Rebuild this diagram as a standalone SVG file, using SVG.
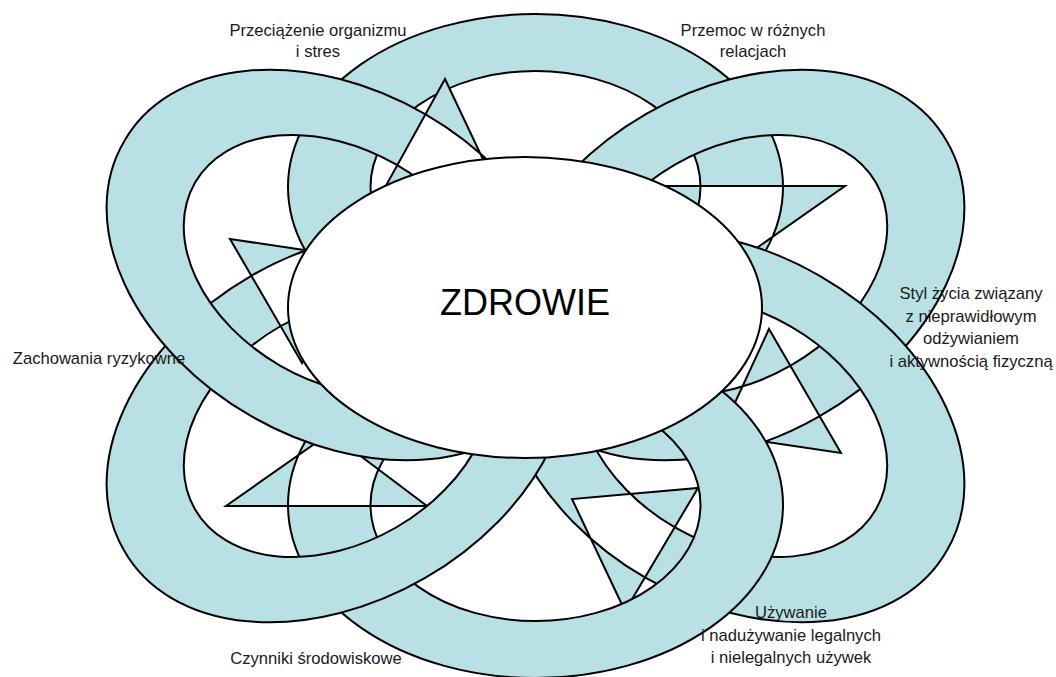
<svg xmlns="http://www.w3.org/2000/svg" width="1056" height="677" viewBox="0 0 1056 677">
<style>
.ring{fill:#B9E0E4;fill-rule:evenodd;stroke:#000;stroke-width:2;stroke-linejoin:miter}
.core{fill:#fff;stroke:#000;stroke-width:2}
.lbl{font-family:"Liberation Sans",Arial,sans-serif;font-size:16.6px;fill:#1a1a1a;text-anchor:middle}
.big{font-family:"Liberation Sans",Arial,sans-serif;font-size:36px;fill:#000;text-anchor:middle}
</style>
<rect width="1056" height="677" fill="#fff"/>
<g id="rings">
<path id="ring-top" class="ring" d="M288 187 A247.5 173 0 1 0 783 187 A247.5 173 0 1 0 288 187 Z M370.5 187 A165 116 0 1 0 700.5 187 A165 116 0 1 0 370.5 187 Z M845 186 L644 186 L741 259 Z"/>
<path id="ring-top-right" class="ring" d="M946.9 141.5 A247 173 -30 1 0 519.1 388.5 A247 173 -30 1 0 946.9 141.5 Z M875.9 182.5 A165 116 -30 1 0 590.1 347.5 A165 116 -30 1 0 875.9 182.5 Z M769 329 L841 453 L720 435 Z"/>
<path id="ring-right" class="ring" d="M946.9 550.5 A247 173 30 1 0 519.1 303.5 A247 173 30 1 0 946.9 550.5 Z M875.9 509.5 A165 116 30 1 0 590.1 344.5 A165 116 30 1 0 875.9 509.5 Z M625 611 L572 499 L698 488 Z"/>
<path id="ring-bottom" class="ring" d="M288 505 A247.5 173 0 1 0 783 505 A247.5 173 0 1 0 288 505 Z M370.5 505 A165 116 0 1 0 700.5 505 A165 116 0 1 0 370.5 505 Z M226 506 L427 506 L330 433 Z"/>
<path id="ring-bottom-left" class="ring" d="M551.9 303.5 A247 173 -30 1 0 124.1 550.5 A247 173 -30 1 0 551.9 303.5 Z M480.9 344.5 A165 116 -30 1 0 195.1 509.5 A165 116 -30 1 0 480.9 344.5 Z M302 363 L230 239 L351 257 Z"/>
<path id="ring-top-left" class="ring" d="M124.1 141.5 A247 173 30 1 0 551.9 388.5 A247 173 30 1 0 124.1 141.5 Z M195.1 182.5 A165 116 30 1 0 480.9 347.5 A165 116 30 1 0 195.1 182.5 Z M445 79 L498 191 L378 200 Z"/>
</g>
<g id="center">
<ellipse class="core" cx="525" cy="307.5" rx="237" ry="150.5"/>
<text class="big" x="525" y="315">ZDROWIE</text>
</g>
<g id="labels">
<g id="l-stres"><text class="lbl" x="318" y="36">Przeciążenie organizmu</text><text class="lbl" x="318" y="57">i stres</text></g>
<g id="l-przemoc"><text class="lbl" x="753" y="36">Przemoc w różnych</text><text class="lbl" x="753" y="57">relacjach</text></g>
<g id="l-styl"><text class="lbl" x="971" y="299">Styl życia związany</text><text class="lbl" x="971" y="322">z nieprawidłowym</text><text class="lbl" x="971" y="344">odżywianiem</text><text class="lbl" x="971" y="367">i aktywnością fizyczną</text></g>
<g id="l-zach"><text class="lbl" x="99" y="364">Zachowania ryzykowne</text></g>
<g id="l-czyn"><text class="lbl" x="316" y="664">Czynniki środowiskowe</text></g>
<g id="l-uzyw"><text class="lbl" x="791" y="618">Używanie</text><text class="lbl" x="791" y="641">i nadużywanie legalnych</text><text class="lbl" x="791" y="663">i nielegalnych używek</text></g>
</g>
</svg>
